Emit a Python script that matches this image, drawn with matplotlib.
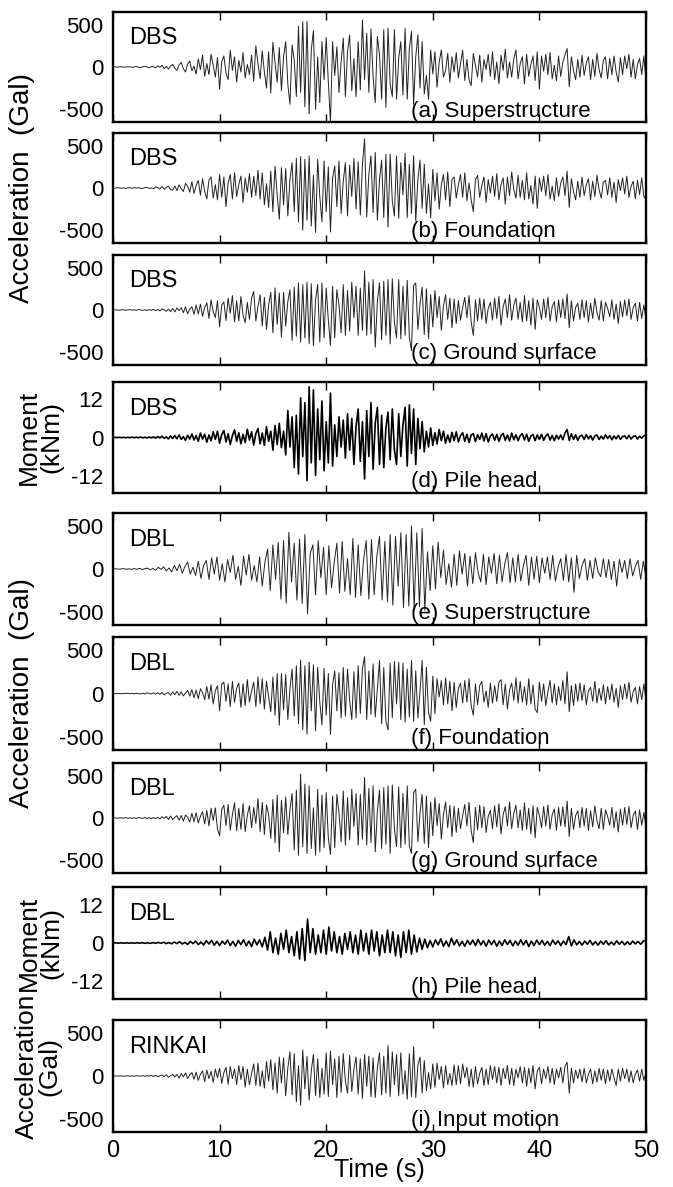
import numpy as np
import matplotlib.pyplot as plt

plt.rcParams['font.family'] = ['Liberation Sans', 'DejaVu Sans']

# (a) DBS superstructure, Gal
dbs_super = [
    0, 3, -2, 1, 4, -3, 2, -1, 3, -4,
    2, 5, -3, -6, 4, 8, -2, -9, 6, 3,
    -10, 14, -5, 20, -18, 6, -24, 12, 30, -15,
    -40, 25, 55, -20, -60, 35, 70, -45, 10, -85,
    95, -30, 140, -110, 40, -90, 150, 20, -120, 110,
    -263, 60, 130, -70, -150, 200, -40, 120, -180, 80,
    -60, 170, -130, 30, -90, 140, -170, 250, 40, -140,
    190, -60, -250, 180, -308, 293, 50, -180, 230, -280,
    120, 300, -200, -440, 260, 80, -350, 481, -300, 537,
    -470, 540, -553, 200, 430, -500, 120, -420, 300, -150,
    350, -180, -654, 300, -100, 240, -300, 60, 340, -350,
    180, 380, -280, 100, -350, 300, -270, 556, -150, 400,
    -300, 450, -120, -420, 360, 150, -380, 440, -477, 460,
    -200, -350, 440, -380, 100, 300, -330, 460, -380, 220,
    420, -440, 120, 380, -250, 300, -320, -100, -383, 200,
    -80, 180, -240, 60, 200, -120, -40, 160, -180, 120,
    -60, 170, -130, 40, 200, -160, 90, -150, -220, 160,
    20, -120, 140, -180, 90, -30, 150, -110, 180, -150,
    60, -200, 140, -40, 210, -130, 60, -120, 100, 200,
    -140, 40, 120, -200, 150, -110, 30, 130, -160, 180,
    -260, 130, -50, 150, -90, 170, -140, 20, -160, 130,
    -110, 60, 140, 218, -233, 120, -40, -150, 90, -120,
    140, -100, 50, 120, -150, 90, -110, 160, -30, -130,
    80, 120, -140, 100, -90, 130, -60, -177, 110, -90,
    130, -20, 150, -120, 90, -140, 30, 100, -90, 130,
    -160,
]

# (b) DBS foundation, Gal
dbs_found = [
    0, -2, 3, 1, -3, 2, -4, 3, 1, -3,
    5, -2, 6, -8, -3, 6, 9, -7, 2, -10,
    14, 4, -12, 18, -15, 8, 22, -20, -26, 24,
    -30, 38, -10, -42, 55, 20, -50, 75, -65, 30,
    90, -85, 110, -40, -130, 95, 130, -120, 40, -140,
    160, -110, 130, -220, 60, 160, -130, 180, -100, 40,
    140, -170, 120, -50, 170, -110, 140, -90, 210, -130,
    180, -200, 50, -230, 200, -280, 260, -80, -370, 240,
    -200, 230, -330, 100, 300, -280, 350, -400, 370, -500,
    340, -380, 380, -450, 150, -525, 340, -100, -400, 320,
    -280, 250, -520, 120, 260, -220, 320, -300, 80, 300,
    -330, 270, -100, 350, -250, 310, -320, 280, 582, -340,
    160, 380, -290, 420, -380, 100, 330, -350, 400, -463,
    400, -150, -330, 380, -360, 300, -80, 410, -350, 280,
    -300, 380, -390, 100, 330, -240, 280, -300, 50, -350,
    220, -150, 180, -250, 40, 160, -140, 190, -220, 100,
    130, -120, 40, 160, -110, 180, -150, 60, -140, -279,
    100, 150, -110, 30, 130, -170, 100, -60, 140, -100,
    170, -140, 40, 120, -190, 130, -90, 190, -20, -120,
    150, -110, 90, -140, 180, -130, 30, -190, 140, -240,
    120, -40, 140, -90, 160, -130, 20, -150, 120, -100,
    60, 130, -90, 200, -230, 110, -40, -140, 80, -110,
    130, -90, 40, 110, -140, 80, -100, 150, -20, -120,
    70, 90, -80, 120, -110, 70, -170, 100, -30, 120,
    -70, 140, -110, 20, 80, -130, 90, -80, 120, -100,
    -140,
]

# (c) DBS ground surface, Gal
dbs_ground = [
    0, 2, -1, -2, 3, 1, -3, 2, 4, -2,
    3, -4, 5, 1, -6, 4, -7, 6, -5, 8,
    -9, 7, -11, 14, 3, -16, 12, -20, 18, -22,
    25, -8, 28, -32, 38, -45, 10, 40, -52, 60,
    -48, 70, -75, 30, 85, -100, 120, -20, -90, 110,
    -200, 60, 95, -125, 140, -40, 170, -140, 110, -130,
    160, -60, -150, 90, -110, 140, 220, -130, 40, 180,
    -190, 150, -230, 60, 210, -270, 260, -170, 200, -320,
    210, -190, 100, 240, -360, 270, -310, 320, -380, 300,
    -330, 330, -400, 310, -423, 120, 300, -380, 320, -330,
    260, -120, -420, 280, -330, 240, 60, -270, 300, -300,
    230, -250, 330, -90, 280, -300, 260, -240, 462, -300,
    330, -280, 360, -440, 100, 320, -350, 340, -300, 360,
    -400, 370, -150, -330, 360, -340, 280, -300, 350, -320,
    -480, 290, 320, -230, 70, 270, -290, 250, -340, 180,
    -200, 230, -90, 160, -240, 50, 180, -110, 140, -210,
    130, -160, 110, -120, 30, 150, -90, 170, -140, -300,
    120, -130, 140, -110, 130, -160, 20, 90, -120, 140,
    -100, 160, -180, 40, 130, -90, 180, -120, 60, 140,
    -110, 90, -140, 170, -130, 110, -180, 140, -230, 120,
    30, -110, 130, -90, 150, -130, 40, 100, -140, 120,
    -90, 130, -100, 190, -210, 110, -130, 30, 80, -110,
    120, -90, 110, -140, 80, -100, 140, -30, -120, 110,
    -130, 90, 20, -80, 120, -110, 70, -160, 100, -80,
    120, -70, 130, -110, 30, 80, -130, 90, -100, 60,
    -110,
]

# (d) DBS pile head moment, kNm
dbs_moment = [
    0, 0.05, -0.05, 0.08, -0.06, 0.05, -0.08, 0.06, -0.05, 0.1,
    -0.08, 0.12, -0.1, 0.15, -0.12, 0.1, -0.15, 0.18, -0.14, 0.2,
    -0.2, 0.3, -0.15, 0.4, -0.25, 0.2, -0.45, 0.5, -0.3, 0.6,
    -0.4, 0.8, -0.6, 0.3, -0.9, 0.7, -0.5, 1.1, -0.8, 0.6,
    -1.2, 1.4, -0.5, 1.0, -1.5, 0.8, -1.0, 1.8, -0.6, 2.0,
    -1.8, 0.9, 2.2, -1.4, 1.2, -2.2, 0.6, 2.4, -1.2, 1.5,
    -2.0, 1.0, -1.6, 2.6, -0.8, 1.8, -2.4, 1.2, 2.8, -2.0,
    1.4, -2.5, 3.4, -1.2, 2.0, -4.0, 3.8, -2.2, 4.5, -3.2,
    2.0, -5.5, 8.5, -3.0, 6.5, -9.5, 7.0, -11.5, 12.5, -6.0,
    11.0, -13.6, 16.0, -8.0, 15.0, -12.0, 9.0, -7.0, 11.5, -10.5,
    5.0, -8.0, 14.0, -9.0, 4.0, -6.0, 6.5, -3.0, 5.5, -6.5,
    7.5, -4.0, 6.0, -8.5, 3.5, 9.0, -7.5, 5.0, -13.1, 8.5,
    -6.0, 11.0, -10.0, 4.5, 9.5, -8.5, 7.0, -9.5, 3.0, 8.0,
    -7.0, 9.0, -4.0, -8.5, 7.5, -6.0, 4.0, 9.5, -9.0, 10.3,
    -5.0, 9.0, -8.5, 6.0, -3.5, 5.0, -4.5, 2.0, -3.0, 3.0,
    -2.5, 1.5, -2.0, 2.5, -1.0, 2.0, -1.8, 0.8, -1.5, 1.6,
    -1.0, 1.8, -1.4, 0.6, 1.5, -1.2, 1.0, -1.6, 0.8, 1.2,
    -1.3, 0.9, -0.6, 1.4, -1.1, 1.2, -1.4, 0.5, 1.1, -0.9,
    1.0, -1.2, 0.6, 1.3, -0.9, 0.8, -1.1, 1.4, -0.7, 0.9,
    -1.0, 0.6, 1.2, -0.8, 1.0, -1.2, 0.5, 0.9, -1.0, 0.8,
    -0.6, 1.0, -0.9, 0.5, 1.1, -0.8, 0.6, -1.0, 0.7, -0.5,
    0.8, -0.7, 1.4, 2.5, -0.9, 1.2, -0.6, 0.8, -0.9, 0.4,
    0.7, -0.6, 0.9, -0.4, 0.6, -0.8, 0.5, 0.8, -0.6, 0.4,
    -0.5, 0.8, -0.3, 0.6, -0.7, 0.5, -0.4, 0.7, -0.6, 0.3,
    0.5, -0.4, 0.7, -0.5, 0.3, 0.6, -0.5, 0.4, -0.2, 0.5,
    0.8,
]

# (e) DBL superstructure, Gal (every 0.25 s)
dbl_super = [
    0, 3, -2, 1, 4, -3, 2, -4,
    5, -3, 8, -6, 4, 10, -9, 6,
    -15, 20, -5, 25, -22, 12, -35, 40,
    -20, 55, -50, 30, 80, -60, 20, -75,
    90, -110, 40, 100, -120, 130, -60, 140,
    -130, 60, -150, 110, -40, 160, -120, 30,
    -190, 150, -70, 170, -130, 40, -150, 140,
    -200, 80, 230, -250, 280, -120, 310, -350,
    330, -396, 425, -150, 300, -360, 350, -400,
    400, -520, 180, 280, -300, 330, -100, 250,
    -300, 270, -220, 80, 300, -280, 320, -260,
    120, -300, 354, -330, 280, -310, 100, 330,
    -350, 340, -300, 150, 380, -360, 320, -380,
    400, -420, 380, -200, 420, -450, 400, -430,
    500, -460, 420, -440, 470, -480, 200, -250,
    270, -230, 312, -100, 220, -180, 60, -210,
    170, -190, 210, -60, 180, -200, 150, -170,
    190, -40, -150, 170, -180, 140, -50, 180,
    -170, 160, -150, 60, 190, -160, 130, -150,
    170, -140, 40, 160, -190, 140, -120, 150,
    -160, 130, -50, 140, -120, 160, -140, 20,
    120, -130, 170, -150, 130, -270, 160, -110,
    40, 120, -130, 100, -110, 130, -30, -90,
    120, -100, 110, -120, 90, -200, 110, -40,
    100, -110, 120, -80, 30, 100, -120, 90,
    -100,
]

# (f) DBL foundation, Gal
dbl_found = [
    0, -3, 2, 1, -4, 3, -2, 4, -3, 2,
    -5, 4, -2, -6, 5, -7, 8, 2, -5, 9,
    -8, 6, -10, 12, -15, 4, 10, -20, 18, -14,
    25, -22, 20, -28, 5, 35, -30, 45, -50, 40,
    -60, 55, 10, -70, 80, -65, 100, -120, 30, 90,
    -200, 110, 130, -90, 110, -150, 140, -100, 60, 120,
    -160, 110, -140, 160, -100, 30, 130, -150, 190, -120,
    170, -180, 140, -40, -210, 190, -250, 230, -365, 230,
    -190, 220, -300, 60, 280, -260, 320, -350, 385, -420,
    320, -470, 360, -200, 330, -430, 300, -100, -360, 290,
    -250, 230, -470, 100, 260, -200, 240, -280, 300, -260,
    280, -80, -300, 250, -280, 320, -230, 290, 423, -300,
    260, -240, 340, -270, 60, 380, -350, 300, -320, -420,
    350, -280, 370, -120, 360, -300, 350, -330, 280, -270,
    380, -320, 260, -280, 30, 380, -360, 300, -220, -320,
    200, -230, 170, -40, 150, -130, 180, -120, 140, -200,
    130, -160, 60, 120, -110, 150, -100, 170, -140, -250,
    110, -130, 90, 140, -100, 30, -160, 120, -110, 90,
    -90, 130, 160, -130, 110, -180, 40, 120, -80, 180,
    -110, 140, -100, 80, -130, 170, -120, 100, -180, -220,
    130, -90, 110, -140, 20, 150, -110, 110, -130, 80,
    -80, 150, -120, 250, -210, 90, -140, 110, -90, 120,
    -80, 100, -130, 30, 70, -90, 140, -110, 60, -80,
    100, -120, 80, -70, 110, -100, 60, -160, 90, -70,
    110, -60, 130, -100, 20, 70, -120, 80, -70, 110,
    -90,
]

# (g) DBL ground surface, Gal
dbl_ground = [
    0, 2, -3, 1, 2, -2, 4, -3, 3, -4,
    2, -5, 6, 1, -4, 7, -8, 6, -9, 7,
    -10, 9, -12, 16, -4, 20, -18, 24, -20, 8,
    28, -26, 30, -38, 35, 10, -48, 55, -45, 62,
    -58, 20, 75, -70, 90, -95, 115, -30, 120, -130,
    -210, 100, 150, -90, 160, -145, 40, 180, -150, 115,
    -135, 170, -160, 30, 145, -115, 125, -65, 230, -160,
    185, -195, 155, 40, -240, 220, -290, 270, -400, 210,
    -175, 250, -195, 100, 290, -380, 330, -440, 520, -340,
    400, -420, 380, -360, 120, -440, 340, -400, 270, -350,
    300, -240, -430, 260, -350, 280, 60, -280, 320, -320,
    240, -260, 340, -100, 290, -320, 280, -250, 480, -320,
    350, -290, 380, -400, 80, 330, -360, 360, -310, 380,
    -420, 390, -130, -340, 370, -350, 290, -310, 380, -330,
    -420, 300, 340, -280, 60, 280, -300, 260, -350, 190,
    -210, 240, -90, 170, -250, 40, 190, -115, 150, -220,
    140, -170, 115, -125, 30, 160, -95, 185, -150, -290,
    125, -140, 150, -115, 135, -170, 20, 90, -125, 145,
    -105, 170, -190, 40, 135, -95, 190, -125, 60, 150,
    -115, 95, -145, 180, -135, 115, -190, 145, -235, 125,
    30, -115, 135, -95, 155, -135, 40, 105, -145, 125,
    -95, 135, -105, 200, -220, 115, -135, 30, 85, -115,
    125, -95, 115, -145, 85, -105, 145, -30, -125, 115,
    -135, 95, 20, -85, 125, -115, 75, -165, 105, -85,
    125, -75, 135, -115, 30, 85, -135, 95, -85, 65,
    -115,
]

# (h) DBL pile head moment, kNm (every 0.25 s)
dbl_moment = [
    0, 0.05, -0.05, 0.06, -0.04, 0.05, -0.06, 0.05,
    -0.05, 0.08, -0.06, 0.1, -0.08, 0.06, -0.1, 0.12,
    -0.1, 0.2, -0.12, 0.25, -0.2, 0.15, -0.25, 0.3,
    -0.2, 0.4, -0.3, 0.2, -0.45, 0.5, -0.2, 0.6,
    -0.5, 0.3, -0.6, 0.7, -0.3, 0.8, -0.7, 0.5,
    -0.8, 0.6, -0.4, 0.9, -0.8, 0.5, -1.0, 0.8,
    -0.5, 1.0, -0.9, 0.6, -1.1, 1.2, -0.6, 1.0,
    -1.2, 1.8, -2.2, 3.5, -3.0, 1.5, -3.5, 3.0,
    -2.0, 4.0, -3.0, 2.0, -4.0, 3.5, -5.0, 4.5,
    -5.5, 7.5, -3.0, 4.5, -3.5, 2.5, -3.0, 4.0,
    -3.5, 5.0, -2.5, 3.5, -3.0, 2.0, -3.5, 3.0,
    -2.0, 3.5, -3.0, 2.5, -3.5, 4.0, -2.5, 3.0,
    -3.5, 4.0, -2.5, 3.5, -4.0, 2.5, -3.0, 4.0,
    -3.0, 3.5, -4.0, 2.5, -4.5, 3.5, -3.0, 4.0,
    -3.5, 2.5, -2.8, 1.5, -2.0, 1.2, -1.5, 0.8,
    -1.2, 1.0, -0.6, 1.3, -1.0, 0.6, -1.1, 1.5,
    -0.6, 1.0, -0.9, 0.5, -1.0, 0.8, -0.5, 0.9,
    -0.8, 1.1, -0.6, 0.7, -1.0, 0.9, -0.5, 0.8,
    -1.0, 0.6, -0.8, 1.0, -0.5, 0.8, -0.9, 0.6,
    -0.7, 1.0, -0.6, 0.8, -1.1, 0.6, -0.8, 0.9,
    -0.5, 0.8, -0.7, 0.5, -0.8, 0.9, -0.4, 0.7,
    -0.8, 0.6, -0.5, 2.0, -0.9, 1.0, -0.6, 0.5,
    -0.7, 0.6, -0.4, 0.8, -0.6, 0.4, -0.7, 0.6,
    -0.4, 0.7, -0.6, 0.3, -0.6, 0.7, -0.4, 0.5,
    -0.6, 0.4, -0.5, 0.6, -0.3, 0.5, -0.4, 0.6,
    0.8,
]

# (i) RINKAI input motion, Gal
rinkai_input = [
    0, 1, -1, 2, 0, -2, 1, 3, -2, 1,
    -3, 4, 1, -3, 5, -4, 6, -2, 8, -6,
    9, -10, 4, 12, -8, 15, -14, 3, 18, -12,
    20, -25, 30, -10, 35, -30, 12, 40, -38, 45,
    -50, 20, 60, -65, 70, -30, 55, -75, 80, -20,
    90, -85, 40, 100, -95, 110, -30, 80, -100, 120,
    -40, 110, -130, 80, -100, 30, 140, -110, 150, -120,
    60, -140, 170, -60, 190, -160, 150, -200, 220, -80,
    210, -230, 90, 280, -220, 260, -300, 120, -340, 304,
    -150, 230, -280, 60, 250, -230, 200, -250, 90, -210,
    270, -240, 290, -100, 200, -250, 230, -190, 260, -60,
    -200, 240, -180, 80, 220, -210, 200, -260, 250, -120,
    230, -240, 210, -250, 100, 270, -220, 230, -200, 354,
    -240, 280, -100, 250, -230, 270, -210, 60, -270, 260,
    -240, 340, -250, 120, 220, -200, 180, -170, 40, -150,
    140, -130, 150, -40, 110, -140, 120, -100, 30, -110,
    130, -100, 120, -90, 140, -20, 100, -120, 80, -130,
    110, -90, 30, 100, -110, 80, -100, 120, -40, 110,
    -80, 100, -110, 90, -30, 120, -100, 90, -110, 80,
    -20, 110, -80, 100, -120, 90, -80, 120, -150, 60,
    100, -90, 80, -30, 110, -80, 90, -100, 80, -20,
    100, -80, 110, 160, -200, 90, -80, 70, -30, 80,
    -70, 90, -80, 20, 80, -90, 60, -70, 90, -50,
    80, -90, 70, -60, 80, -20, -110, 80, -60, 90,
    -30, 80, -70, 60, -80, 20, 70, -60, 80, -50,
    40,
]

acc_ticks = [-500, 0, 500]
mom_ticks = [-12, 0, 12]
time_ticks = [0, 10, 20, 30, 40, 50]

# series, kind, site, caption, panel top / bottom in pixels
panels = [
    (dbs_super,    'acc', 'DBS',    '(a) Superstructure',   12, 122),
    (dbs_found,    'acc', 'DBS',    '(b) Foundation',      133, 243),
    (dbs_ground,   'acc', 'DBS',    '(c) Ground surface',  255, 365),
    (dbs_moment,   'mom', 'DBS',    '(d) Pile head',       382, 493),
    (dbl_super,    'acc', 'DBL',    '(e) Superstructure',  513, 625),
    (dbl_found,    'acc', 'DBL',    '(f) Foundation',      637, 750),
    (dbl_ground,   'acc', 'DBL',    '(g) Ground surface',  763, 873),
    (dbl_moment,   'mom', 'DBL',    '(h) Pile head',       887, 999),
    (rinkai_input, 'acc', 'RINKAI', '(i) Input motion',   1020, 1132),
]

W, H = 673, 1187
fig = plt.figure(figsize=(W / 100, H / 100), dpi=100)
x0, x1 = 113, 646

for k, (vals, kind, site, caption, top, bot) in enumerate(panels):
    ax = fig.add_axes([x0 / W, 1 - bot / H, (x1 - x0) / W, (bot - top) / H])
    t = np.linspace(0, 50, len(vals))
    if kind == 'acc':
        ax.plot(t, vals, color='#222222', lw=0.7)
        ax.set_ylim(-650, 650)
        ax.set_yticks(acc_ticks)
        ax.set_yticklabels([str(v) for v in acc_ticks])
    else:
        ax.plot(t, vals, color='black', lw=1.2)
        ax.set_ylim(-17.5, 17.5)
        ax.set_yticks(mom_ticks)
        ax.set_yticklabels([str(v) for v in mom_ticks])
    ax.set_xlim(0, 50)
    ax.set_xticks(time_ticks)
    ax.tick_params(axis='x', direction='in', length=6, width=1, top=True,
                   labelsize=17, pad=6)
    ax.tick_params(axis='y', length=0, labelsize=16, pad=7)
    if k < len(panels) - 1:
        ax.set_xticklabels([])
    for s in ax.spines.values():
        s.set_linewidth(1.7)
    ax.text(0.03, 0.76, site, transform=ax.transAxes, fontsize=17,
            va='center', ha='left')
    ax.text(28.0, 0.10, caption, transform=ax.get_xaxis_transform(),
            fontsize=16, va='center', ha='left')

# axis titles
fig.text(22 / W, 1 - 188 / H, 'Acceleration  (Gal)', rotation=90,
         fontsize=20, ha='center', va='center')
fig.text(22 / W, 1 - 693 / H, 'Acceleration  (Gal)', rotation=90,
         fontsize=20, ha='center', va='center')
fig.text(40 / W, 1 - 437 / H, 'Moment\n(kNm)', rotation=90, fontsize=19,
         ha='center', va='center', linespacing=0.9)
fig.text(40 / W, 1 - 943 / H, 'Moment\n(kNm)', rotation=90, fontsize=19,
         ha='center', va='center', linespacing=0.9)
fig.text(38 / W, 1 - 1066 / H, 'Acceleration\n(Gal)', rotation=90,
         fontsize=19, ha='center', va='center', linespacing=0.9)
fig.text((x0 + x1) / 2 / W, 1 - 1170 / H, 'Time (s)', fontsize=18,
         ha='center', va='center')

fig.savefig('out.png', dpi=100)
